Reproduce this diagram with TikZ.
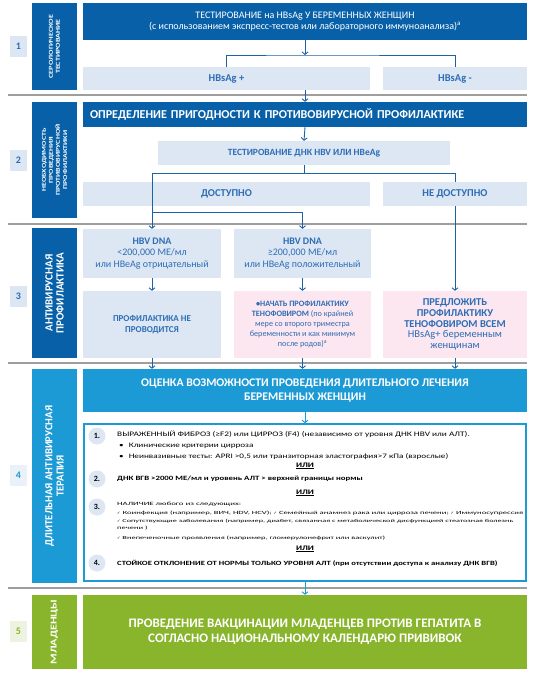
\documentclass[tikz,border=0pt]{standalone}
\usepackage{fontspec}
\setmainfont{Carlito}
\newfontfamily\sym{DejaVu Sans}
\newfontfamily\wide{Carlito}[FakeStretch=1.35]
\newfontfamily\wider{Carlito}[FakeStretch=1.8]
\usetikzlibrary{arrows.meta,calc}
\definecolor{dkblue}{HTML}{0861A8}
\definecolor{ltblue}{HTML}{1C9AD6}
\definecolor{pale}{HTML}{DDE7F4}
\definecolor{pinkish}{HTML}{FCE6EF}
\definecolor{txtblue}{HTML}{2D6DB5}
\definecolor{lineblue}{HTML}{1E62A6}
\definecolor{leaf}{HTML}{88B52B}
\definecolor{paleleaf}{HTML}{EEF3E1}
\newcommand{\fs}[1]{\fontsize{#1}{\fpeval{1.2*#1}}\selectfont}
\newcommand{\fsl}[2]{\fontsize{#1}{\fpeval{#2*#1}}\selectfont}
\newcommand{\ok}{{\sym\fontsize{4}{5}\selectfont ✓}}
\begin{document}
\begin{tikzpicture}[x=1pt,y=-1pt,
  bar/.style={fill=dkblue, text=white, rotate=90, align=center, inner sep=0, font=\bfseries},
  num/.style={fill=pale, text=txtblue, minimum width=17, minimum height=21, inner sep=0, font=\bfseries\fs{10}},
  dark/.style={fill=dkblue, text=white, align=center, inner sep=0, font=\bfseries},
  pale/.style={fill=pale, text=txtblue, align=center, inner sep=0, font=\bfseries\fs{10.5}},
  pinkbox/.style={fill=pinkish, text=txtblue, align=center, inner sep=0},
  ln/.style={draw=lineblue, line width=0.9},
  arr/.style={ln, -{Straight Barb[length=2.5pt,width=6pt]}},
  larr/.style={arr, draw=ltblue},
  sep/.style={draw=black!38, line width=1.2},
  item/.style={circle, fill=pale, minimum size=17, inner sep=0, font=\bfseries\fs{8}},
  txt/.style={anchor=west, inner sep=0},
  ili/.style={inner sep=0, font=\wide\bfseries\fs{6.9}}]
\useasboundingbox (0,0) rectangle (543,675);
\fill[white] (0,0) rectangle (543,675);

\node[bar, minimum width=87, minimum height=45, font=\wide\bfseries\fsl{6}{1.15}] (bar1) at (54.5,46.5) {СЕРОЛОГИЧЕСКОЕ\\ТЕСТИРОВАНИЕ};
\node[num] (n1) at (18.5,46.5) {1};
\node[dark, minimum width=444, minimum height=37, font=\fsl{10}{1.05}] (t1) at (305,21.5) {ТЕСТИРОВАНИЕ на HBsAg У БЕРЕМЕННЫХ ЖЕНЩИН\\(с использованием экспресс-тестов или лабораторного иммуноанализа)\textsuperscript{a}};
\node[pale, minimum width=287, minimum height=23] (pos) at (226.5,78.5) {HBsAg +};
\node[pale, minimum width=144, minimum height=23] (neg) at (455,78.5) {HBsAg -};
\draw[sep] (8,95) -- (527,95);

\node[bar, minimum width=116, minimum height=45, font=\wide\bfseries\fsl{5.9}{1.2}] (bar2) at (54.5,160) {НЕОБХОДИМОСТЬ\\ПРОВЕДЕНИЯ\\ПРОТИВОВИРУСНОЙ\\ПРОФИЛАКТИКИ};
\node[num] (n2) at (18.5,160) {2};
\node[dark, text width=430, inner xsep=7, align=left, minimum height=25, font=\bfseries\fs{12.1}] (t2) at (305,114.5) {ОПРЕДЕЛЕНИЕ ПРИГОДНОСТИ К ПРОТИВОВИРУСНОЙ ПРОФИЛАКТИКЕ};
\node[pale, minimum width=292, minimum height=24, font=\bfseries\fs{9.5}] (test) at (304,153) {ТЕСТИРОВАНИЕ ДНК HBV ИЛИ HBeAg};
\node[pale, minimum width=287, minimum height=24] (avail) at (226.5,194) {ДОСТУПНО};
\node[pale, minimum width=144, minimum height=24] (navail) at (455,194) {НЕ ДОСТУПНО};
\draw[sep] (8,224) -- (527,224);

\node[bar, minimum width=130, minimum height=45, font=\bfseries\fsl{11}{1}] (bar3) at (54.5,293) {АНТИВИРУСНАЯ\\ПРОФИЛАКТИКА};
\node[num] (n3) at (18.5,296) {3};
\node[pale, minimum width=138, minimum height=49, font=\fsl{10}{1.15}] (lo) at (152,253.5) {\textbf{HBV DNA}\\<200,000 МЕ/мл\\или HBeAg отрицательный};
\node[pale, minimum width=137, minimum height=49, font=\fsl{10}{1.15}] (hi) at (302.5,253.5) {\textbf{HBV DNA}\\≥200,000 МЕ/мл\\или HBeAg положительный};
\node[pale, minimum width=138, minimum height=67, font=\bfseries\fsl{9}{1.28}] (no) at (152,324.5) {ПРОФИЛАКТИКА НЕ\\ПРОВОДИТСЯ};
\node[pinkbox, minimum width=137, minimum height=67, font=\fsl{8.2}{1.22}] (start) at (302.5,324.5) {\textbf{•НАЧАТЬ ПРОФИЛАКТИКУ}\\\textbf{ТЕНОФОВИРОМ} (по крайней\\мере со второго триместра\\беременности и как минимум\\после родов)\textsuperscript{a}};
\node[pinkbox, minimum width=144, minimum height=67, font=\fsl{10.5}{1.03}] (offer) at (455,324.5) {\textbf{ПРЕДЛОЖИТЬ}\\\textbf{ПРОФИЛАКТИКУ}\\\textbf{ТЕНОФОВИРОМ ВСЕМ}\\HBsAg+ беременным\\женщинам};
\draw[sep] (8,363) -- (527,363);

\node[bar, fill=ltblue, minimum width=214, minimum height=45, font=\bfseries\fsl{10.7}{1.05}] (bar4) at (54.5,476) {ДЛИТЕЛЬНАЯ АНТИВИРУСНАЯ\\ТЕРАПИЯ};
\node[num, fill=pale!60, text=ltblue] (n4) at (18.5,475.5) {4};
\node[dark, fill=ltblue, minimum width=444, minimum height=43, font=\bfseries\fsl{11.7}{1.2}] (t4) at (305,390.5) {ОЦЕНКА ВОЗМОЖНОСТИ ПРОВЕДЕНИЯ ДЛИТЕЛЬНОГО ЛЕЧЕНИЯ\\БЕРЕМЕННЫХ ЖЕНЩИН};
\node[draw=ltblue, line width=1.6, fill=white, minimum width=442, minimum height=157, inner sep=0] (crit) at (305,502.5) {};
\node[item] (i1) at (97,436) {1.};
\node[txt, font=\wide\fs{6.9}] (c1) at (117,434) {ВЫРАЖЕННЫЙ ФИБРОЗ (≥F2) или ЦИРРОЗ (F4) (независимо от уровня ДНК HBV или АЛТ).};
\node[txt, font=\wide\fs{6.8}] (c1a) at (119,446) {\textbullet\hspace{5pt}Клинические критерии цирроза};
\node[txt, font=\wide\fs{6.8}] (c1b) at (119,457) {\textbullet\hspace{5pt}Неинвазивные тесты: APRI >0,5 или транзиторная эластография>7 кПа (взрослые)};
\node[ili] (or1) at (305,466) {\underline{ИЛИ}};
\node[item] (i2) at (97,479) {2.};
\node[txt, font=\wide\bfseries\fs{6.5}] (c2) at (117,479) {ДНК ВГВ >2000 МЕ/мл и уровень АЛТ > верхней границы нормы};
\node[ili] (or2) at (305,493) {\underline{ИЛИ}};
\node[item] (i3) at (97,507) {3.};
\node[txt, font=\wider\fs{4.9}] (c3) at (117,504) {НАЛИЧИЕ любого из следующих:};
\node[txt, font=\wider\fs{4.8}] (c3a) at (117,513) {\ok{} Коинфекция (например, ВИЧ, HDV, HCV); \ok{} Семейный анамнез рака или цирроза печени; \ok{} Иммуносупрессия};
\node[txt, font=\wider\fs{4.55}] (c3b) at (117,521.5) {\ok{} Сопутствующие заболевания (например, диабет, связанная с метаболической дисфункцией стеатозная болезнь};
\node[txt, font=\wider\fs{4.7}] (c3c) at (117,528.5) {печени )};
\node[txt, font=\wider\fs{4.7}] (c3d) at (117,538) {\ok{} Внепеченочные проявления (например, гломерулонефрит или васкулит)};
\node[ili] (or3) at (305,549) {\underline{ИЛИ}};
\node[item] (i4) at (97,563) {4.};
\node[txt, font=\wide\bfseries\fs{6.4}] (c4) at (117,563) {СТОЙКОЕ ОТКЛОНЕНИЕ ОТ НОРМЫ ТОЛЬКО УРОВНЯ АЛТ (при отсутствии доступа к анализу ДНК ВГВ)};
\draw[sep] (8,588) -- (527,588);

\node[bar, fill=leaf, minimum width=74, minimum height=45, font=\wide\bfseries\fs{9}] (bar5) at (54.5,632) {МЛАДЕНЦЫ};
\node[num, fill=paleleaf, text=leaf] (n5) at (18.5,631) {5};
\node[dark, fill=leaf, minimum width=444, minimum height=74, font=\bfseries\fsl{13}{1.15}] (t5) at (305,632) {ПРОВЕДЕНИЕ ВАКЦИНАЦИИ МЛАДЕНЦЕВ ПРОТИВ ГЕПАТИТА В\\СОГЛАСНО НАЦИОНАЛЬНОМУ КАЛЕНДАРЮ ПРИВИВОК};

\coordinate (j1) at (305,55);
\coordinate (j2) at (304,173);
\coordinate (j3) at (152,212);
\draw[arr] (t1.south) -- (j1);
\draw[ln] (pos.north) |- (j1) -| (neg.north);
\draw[arr] (pos.south -| t1.south) -- (t2.north);
\draw[arr] (t2.south) -- (test.north);
\draw[ln] (test.south) -- (j2);
\draw[arr] (j2) -| (lo.north);
\draw[ln] (j2) -| (navail.north);
\draw[arr] (j3) -| (hi.north);
\draw[arr] (navail.south) -- (offer.north);
\draw[arr] (lo.south) -- (no.north);
\draw[arr] (hi.south) -- (start.north);
\draw[arr] (no.south) -- (no.south |- t4.north);
\draw[arr] (start.south) -- (start.south |- t4.north);
\draw[arr] (offer.south) -- (offer.south |- t4.north);
\draw[larr] (t4.south) -- (crit.north);
\draw[larr] (crit.south) -- (t5.north);
\end{tikzpicture}
\end{document}
